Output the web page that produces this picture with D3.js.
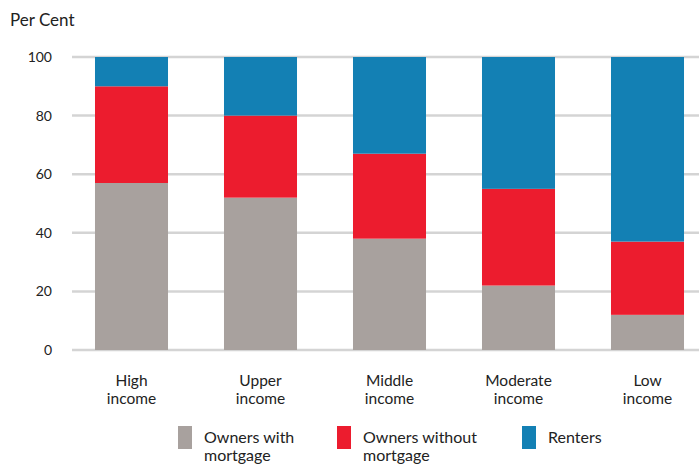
<!DOCTYPE html>
<html><head><meta charset="utf-8">
<script src="https://cdn.jsdelivr.net/npm/d3@7"></script>
<style>body{margin:0;background:#fff}svg{display:block}text{font-family:Lato,"Open Sans",sans-serif;fill:#222}</style>
</head><body><svg id="c" width="699" height="466"></svg>
<script>
const categories = [["High","income"],["Upper","income"],["Middle","income"],["Moderate","income"],["Low","income"]];
const ownersWithMortgage = [57, 52, 38, 22, 12];
const ownersWithoutMortgage = [33, 28, 29, 33, 25];
const renters = [10, 20, 33, 45, 63];
const yTicks = [0, 20, 40, 60, 80, 100];
const seriesNames = [["Owners with","mortgage"],["Owners without","mortgage"],["Renters"]];
const colors = ["#a8a19e", "#ec1c2e", "#1380b4"];

const svg = d3.select("#c");
const keys = ["a","b","c"];
const rows = categories.map((c,i)=>({cat:i, a:ownersWithMortgage[i], b:ownersWithoutMortgage[i], c:renters[i]}));
const stack = d3.stack().keys(keys)(rows);

const x = d3.scaleBand().domain(d3.range(categories.length)).range([67, 712]).paddingInner(0.434).paddingOuter(0.217);
const y = d3.scaleLinear().domain([0,100]).range([350, 57]);

// gridlines
svg.append("g").selectAll("line").data(yTicks).join("line")
  .attr("x1", 72).attr("x2", 699)
  .attr("y1", d=>y(d)).attr("y2", d=>y(d))
  .attr("stroke", "#d4d4d4").attr("stroke-width", 2.5);

// y labels
svg.append("g").selectAll("text").data(yTicks).join("text")
  .attr("x", 52).attr("y", d=>y(d)+5)
  .attr("text-anchor","end").attr("font-size",14).text(d=>d);

svg.append("text").attr("x",10).attr("y",26).attr("font-size",17).text("Per Cent");

// bars
stack.forEach((s,si)=>{
  svg.append("g").selectAll("rect").data(s).join("rect")
    .attr("x", (d,i)=>x(i)).attr("width", x.bandwidth())
    .attr("y", d=>y(d[1])).attr("height", d=>y(d[0])-y(d[1]))
    .attr("fill", colors[si]);
});

// category labels
const cl = svg.append("g").selectAll("text").data(categories).join("text")
  .attr("text-anchor","middle").attr("font-size",15.5)
  .attr("transform",(d,i)=>`translate(${x(i)+x.bandwidth()/2},386)`);
cl.each(function(d){
  const t=d3.select(this);
  d.forEach((line,j)=>t.append("tspan").attr("x",0).attr("y",j*18).text(line));
});

// legend
const legX = [178, 337, 522];
seriesNames.forEach((n,i)=>{
  svg.append("rect").attr("x",legX[i]).attr("y",426).attr("width",14).attr("height",23).attr("fill",colors[i]);
  const t = svg.append("text").attr("font-size",16).attr("transform",`translate(${legX[i]+26},443)`);
  n.forEach((line,j)=>t.append("tspan").attr("x",0).attr("y",j*18).text(line));
});
</script></body></html>
